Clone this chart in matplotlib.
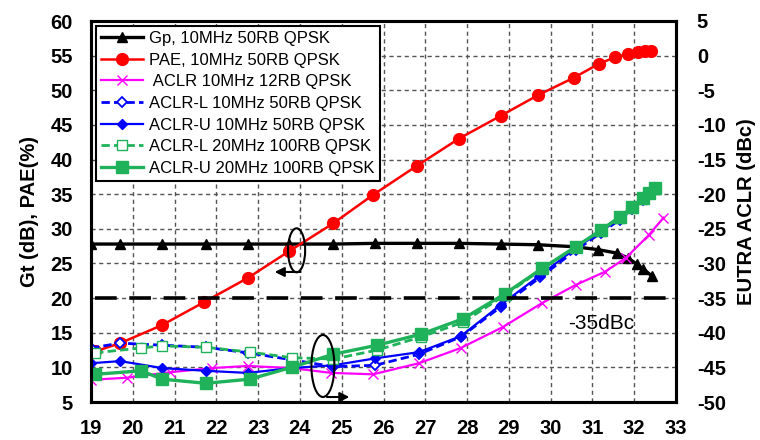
import matplotlib
matplotlib.use("Agg")
import matplotlib.pyplot as plt
from matplotlib.patches import Ellipse

plt.rcParams['font.family'] = ['Liberation Sans', 'DejaVu Sans']
plt.rcParams['axes.unicode_minus'] = False

# ---- data ----
gp_x = [19.0, 19.7, 20.7, 21.75, 22.75, 23.75, 24.8, 25.8, 26.8, 27.8, 28.8, 29.7, 30.6, 31.13, 31.58, 31.85, 32.06, 32.22, 32.42]
gp_y = [27.8, 27.8, 27.8, 27.8, 27.8, 27.8, 27.8, 27.9, 27.9, 27.9, 27.8, 27.7, 27.4, 27.0, 26.5, 25.8, 24.9, 24.2, 23.2]

pae_x = [19.1, 19.7, 20.7, 21.7, 22.75, 23.75, 24.8, 25.75, 26.8, 27.8, 28.8, 29.7, 30.55, 31.15, 31.55, 31.85, 32.1, 32.25, 32.4]
pae_y = [12.3, 13.5, 16.1, 19.4, 22.9, 26.8, 30.8, 34.9, 39.1, 43.0, 46.3, 49.3, 51.8, 53.8, 54.8, 55.2, 55.5, 55.6, 55.7]

aclr12_x = [19.0, 19.85, 20.9, 21.9, 22.75, 23.8, 24.75, 25.75, 26.85, 27.85, 28.85, 29.8, 30.6, 31.3, 31.8, 32.35, 32.7]
aclr12_y = [-46.8, -46.5, -45.7, -45.1, -44.8, -45.1, -45.8, -46.0, -44.4, -42.2, -39.2, -35.7, -33.1, -31.2, -29.2, -25.9, -23.4]

b_x = [19.0, 19.7, 20.7, 21.75, 22.75, 23.8, 24.8, 25.8, 26.85, 27.85, 28.8, 29.75, 30.6, 31.2, 31.65, 31.95, 32.2, 32.35, 32.5]
aclrL10_y = [-42.2, -41.5, -41.8, -42.1, -42.9, -43.9, -44.9, -44.7, -43.1, -40.6, -36.3, -32.0, -28.1, -25.6, -23.7, -22.2, -20.8, -20.0, -19.1]
aclrU10_y = [-44.4, -44.1, -45.1, -45.5, -45.8, -45.1, -44.7, -43.7, -42.8, -40.5, -36.0, -31.7, -27.8, -25.4, -23.5, -22.0, -20.7, -19.8, -19.0]

g_x = [19.1, 20.2, 20.7, 21.75, 22.8, 23.8, 24.8, 25.85, 26.9, 27.9, 28.9, 29.8, 30.6, 31.2, 31.65, 31.95, 32.2, 32.35, 32.5]
aclrL20_y = [-42.9, -42.2, -41.9, -42.1, -42.8, -43.6, -43.8, -42.5, -40.6, -38.5, -34.6, -30.8, -27.6, -25.3, -23.4, -22.0, -20.7, -19.9, -19.2]
aclrU20_y = [-46.0, -45.5, -46.7, -47.3, -46.7, -45.0, -43.1, -41.8, -40.2, -38.0, -34.4, -30.7, -27.6, -25.2, -23.3, -21.9, -20.6, -19.8, -19.1]

spec_level = -35
spec_x = [19.1, 32.8]

x_ticks = list(range(19, 34))
yl_ticks = list(range(5, 61, 5))
yr_ticks = list(range(-50, 6, 5))

labels = ["Gp, 10MHz 50RB QPSK", "PAE, 10MHz 50RB QPSK", " ACLR 10MHz 12RB QPSK",
          "ACLR-L 10MHz 50RB QPSK", "ACLR-U 10MHz 50RB QPSK",
          "ACLR-L 20MHz 100RB QPSK", "ACLR-U 20MHz 100RB QPSK"]

GREEN = '#1fb25a'

fig = plt.figure(figsize=(7.6, 4.4), dpi=100)
ax = fig.add_axes([91/760, 1-402/440, (676-91)/760, (402-21)/440])
ax2 = ax.twinx()

ax.set_xlim(19, 33)
ax.set_ylim(5, 60)
ax2.set_ylim(-50, 5)
ax.set_xticks(x_ticks)
ax.set_yticks(yl_ticks)
ax2.set_yticks(yr_ticks)

ax.grid(True, color='#555555', linestyle=(0, (3, 2.5)), linewidth=1.0)
ax.set_axisbelow(True)

for a in (ax, ax2):
    for s in a.spines.values():
        s.set_linewidth(2.2)
        s.set_color('black')
    a.tick_params(length=0, labelsize=14.5)
ax.tick_params(axis='y', pad=13)
ax.tick_params(axis='x', pad=12)
ax2.tick_params(axis='y', pad=15)
for t in ax.get_xticklabels() + ax.get_yticklabels() + ax2.get_yticklabels():
    t.set_fontweight('bold')

ax.set_ylabel("Gt (dB), PAE(%)", fontsize=14.5, fontweight='bold', labelpad=8)
ax2.set_ylabel("EUTRA ACLR (dBc)", fontsize=14.5, fontweight='bold', labelpad=8)

h = []
h += ax.plot(gp_x, gp_y, color='black', lw=2.4, marker='^', ms=7.5, label=labels[0])
h += ax.plot(pae_x, pae_y, color='red', lw=1.8, marker='o', ms=8.5, label=labels[1])
h += ax2.plot(aclr12_x, aclr12_y, color='#ff00ff', lw=1.6, marker='x', ms=7, mew=1.0, label=labels[2])
h += ax2.plot(b_x, aclrL10_y, color='#0000ff', lw=2.0, ls=(0, (3, 1.5)), marker='D', ms=5.5,
              mfc='white', mec='#0000ff', mew=1.3, label=labels[3])
h += ax2.plot(b_x, aclrU10_y, color='#0000ff', lw=1.6, marker='D', ms=5.5, label=labels[4])
h += ax2.plot(g_x, aclrL20_y, color=GREEN, lw=2.0, ls=(0, (3, 1.5)), marker='s', ms=7.5,
              mfc='white', mec=GREEN, mew=1.0, label=labels[5])
h += ax2.plot(g_x, aclrU20_y, color=GREEN, lw=2.4, marker='s', ms=8.5, label=labels[6])

ax2.hlines(spec_level, spec_x[0], spec_x[1], colors='black', lw=2.6, linestyles=(0, (6, 3.5)))
ax2.text(30.41, -38.6, "-35dBc", fontsize=15, ha='left', va='center')

# ellipse annotations
ax.add_patch(Ellipse((23.92, 26.9), 0.41, 6.35, fill=False, ec='black', lw=1.5, zorder=5))
ax.annotate("", xy=(23.33, 23.77), xytext=(24.08, 23.77),
            arrowprops=dict(arrowstyle='-|>', color='black', lw=1.5, mutation_scale=14), zorder=5)
ax2.add_patch(Ellipse((24.55, -44.8), 0.55, 8.95, fill=False, ec='black', lw=1.5, zorder=5))
ax2.annotate("", xy=(25.25, -49.28), xytext=(24.58, -49.28),
             arrowprops=dict(arrowstyle='-|>', color='black', lw=1.5, mutation_scale=14), zorder=5)

leg = ax2.legend(handles=h, loc='upper left', bbox_to_anchor=(96/760, 1-26/440),
                 bbox_transform=fig.transFigure, fontsize=12, frameon=True, fancybox=False,
                 edgecolor='black', framealpha=1, handlelength=2.5, handletextpad=0.4,
                 labelspacing=0.4, borderpad=0.3, borderaxespad=0)
leg.get_frame().set_linewidth(1.5)
leg.set_zorder(10)

fig.savefig("out.png", dpi=100)
